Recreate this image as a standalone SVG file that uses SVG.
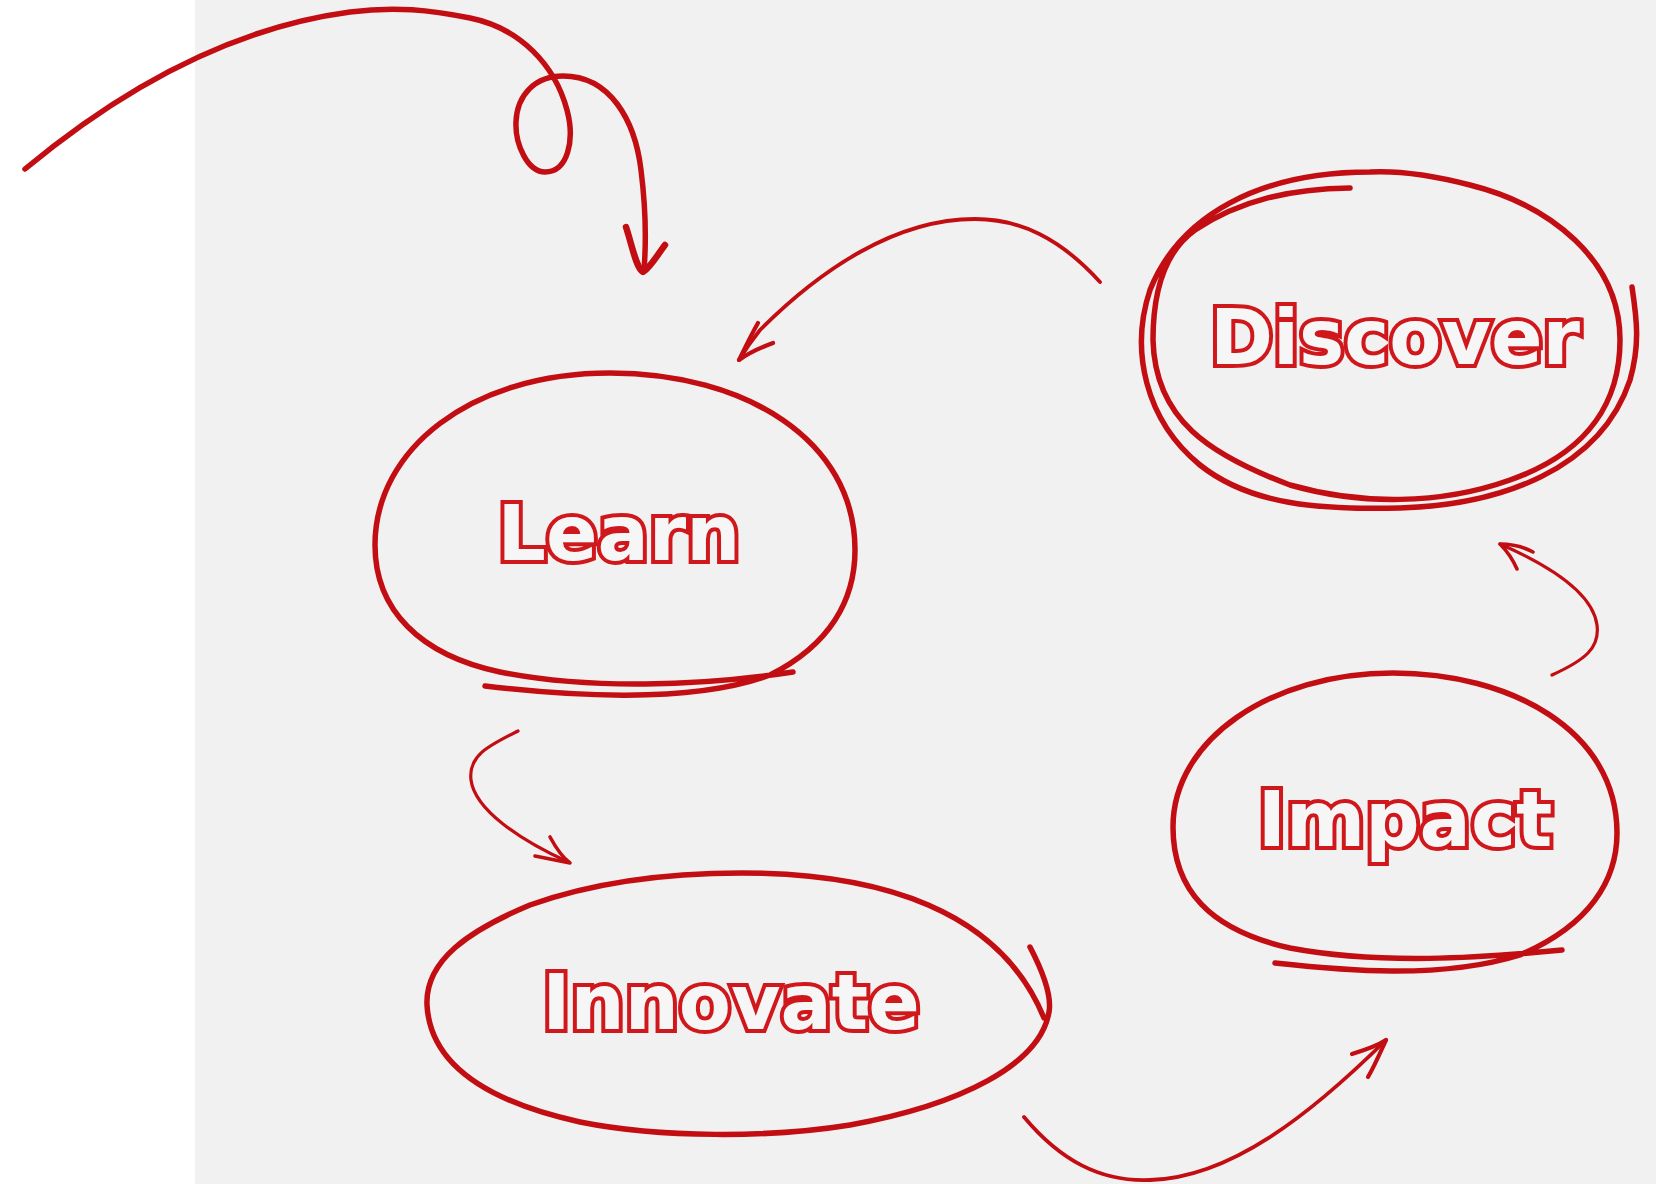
<svg xmlns="http://www.w3.org/2000/svg" width="1656" height="1184" viewBox="0 0 1656 1184">
<style>
.sk{fill:none;stroke:#c20e12;stroke-linecap:round;stroke-linejoin:round}
.oval{stroke-width:5.5}
.lbl{font-family:"DejaVu Sans",sans-serif;font-weight:bold;font-size:76px;fill:#f6f6f6;stroke:#d0181c;stroke-width:8;stroke-linejoin:miter;paint-order:stroke;text-anchor:middle}
</style>
<rect x="0" y="0" width="1656" height="1184" fill="#ffffff"/>
<rect x="195" y="0" width="1461" height="1184" fill="#f1f1f1"/>
<g id="connectors">
<path class="sk" stroke-width="5.5" d="M25,169 C120,90 230,28 350,12 C395,6 430,10 470,18 C520,28 555,65 567,110 C575,140 568,172 545,172 C528,172 515,145 516,122 C517,95 535,76 563,76 C610,76 635,120 641,170 C646,210 646,245 644,270"/>
<path class="sk" stroke-width="6.5" d="M626,227 C632,245 636,268 643,272 C650,268 658,254 665,245"/>
<path class="sk" stroke-width="3.8" d="M1100,282 C1060,238 1020,219 975,219 C895,219 820,270 760,330 C752,340 745,350 739,360"/>
<path class="sk" stroke-width="4.2" d="M758,323 C750,337 744,350 739,360 C750,352 762,347 773,343"/>
<path class="sk" stroke-width="3.2" d="M518,731 C490,745 468,755 471,780 C475,810 520,840 568,862"/>
<path class="sk" stroke-width="3.6" d="M550,837 C556,848 562,857 570,863 C560,861 545,858 535,856"/>
<path class="sk" stroke-width="3.2" d="M1552,675 C1585,660 1600,648 1597,625 C1593,595 1555,568 1500,544"/>
<path class="sk" stroke-width="3.6" d="M1533,552 C1522,546 1510,544 1500,544 C1508,552 1513,560 1517,569"/>
<path class="sk" stroke-width="3.8" d="M1024,1117 C1060,1160 1100,1182 1150,1180 C1230,1178 1310,1115 1386,1040"/>
<path class="sk" stroke-width="4.2" d="M1352,1054 C1365,1050 1377,1046 1386,1040 C1380,1053 1375,1065 1368,1077"/>
</g>
<g id="node-learn">
<path class="sk oval" d="M485,686 C560,695 690,705 770,675 C830,645 855,600 855,550 C855,440 745,373 610,373 C470,373 375,450 375,545 C375,610 420,655 500,672 C590,690 700,686 793,672"/>
<text class="lbl" x="619" y="560">Learn</text>
</g>
<g id="node-discover">
<path class="sk oval" d="M1350,188 C1290,189 1240,200 1195,230 C1160,255 1153,300 1153,340 C1155,420 1210,455 1290,485 C1360,505 1440,505 1510,480 C1590,452 1620,400 1620,340 C1620,260 1550,205 1470,185 C1420,172 1390,171 1370,172 C1260,172 1180,215 1150,290 C1130,350 1145,420 1200,465 C1250,505 1320,510 1400,508 C1500,505 1600,470 1630,380 C1640,345 1637,320 1632,287"/>
<text class="lbl" x="1395" y="364">Discover</text>
</g>
<g id="node-impact">
<path class="sk oval" d="M1275,963 C1340,970 1440,980 1520,955 C1590,925 1617,880 1617,833 C1617,730 1510,673 1393,673 C1270,673 1173,740 1173,827 C1173,890 1210,930 1290,948 C1380,965 1480,958 1562,950"/>
<text class="lbl" x="1405" y="846">Impact</text>
</g>
<g id="node-innovate">
<path class="sk oval" d="M1030,947 C1042,970 1052,995 1049,1012 C1040,1065 960,1105 850,1125 C770,1138 660,1138 580,1122 C480,1100 430,1060 427,1005 C425,960 470,930 530,905 C600,880 680,873 742,873 C880,873 1000,910 1044,1018"/>
<text class="lbl" x="731" y="1029">Innovate</text>
</g>
</svg>
